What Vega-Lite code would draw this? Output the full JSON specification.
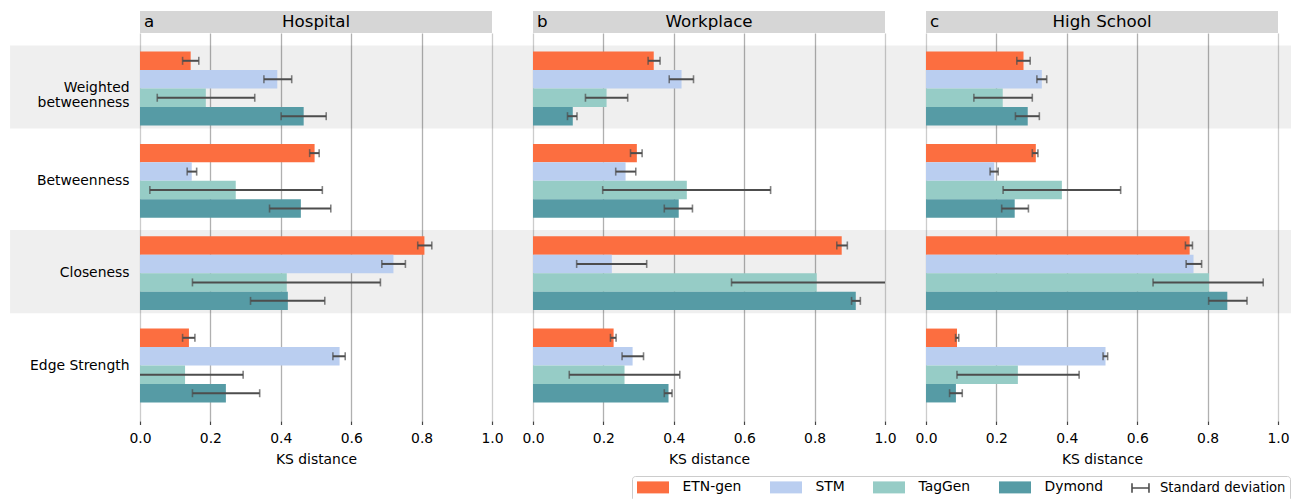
{
  "$schema": "https://vega.github.io/schema/vega-lite/v6.json",
  "padding": {"left": 10, "top": 11, "right": 0, "bottom": 0},
  "autosize": {"type": "pad"},
  "background": "white",
  "spacing": 0,
  "config": {
    "font": "DejaVu Sans",
    "view": {"stroke": null},
    "axis": {"labelColor": "#000000", "titleColor": "#000000", "labelFontSize": 13.9, "titleFontSize": 13.9, "titleFontWeight": "normal", "labelFont": "DejaVu Sans", "titleFont": "DejaVu Sans"},
    "text": {"color": "#000000"}
  },
  "datasets": {
    "bands": [
      {"metric": "Weighted betweenness"},
      {"metric": "Closeness"}
    ],
    "bars": [
      {"panel": "Hospital", "metric": "Weighted betweenness", "method": "ETN-gen", "value": 0.144, "lo": 0.121, "hi": 0.167},
      {"panel": "Hospital", "metric": "Weighted betweenness", "method": "STM", "value": 0.390, "lo": 0.352, "hi": 0.431},
      {"panel": "Hospital", "metric": "Weighted betweenness", "method": "TagGen", "value": 0.187, "lo": 0.049, "hi": 0.326},
      {"panel": "Hospital", "metric": "Weighted betweenness", "method": "Dymond", "value": 0.465, "lo": 0.401, "hi": 0.529},
      {"panel": "Hospital", "metric": "Betweenness", "method": "ETN-gen", "value": 0.496, "lo": 0.482, "hi": 0.509},
      {"panel": "Hospital", "metric": "Betweenness", "method": "STM", "value": 0.147, "lo": 0.134, "hi": 0.161},
      {"panel": "Hospital", "metric": "Betweenness", "method": "TagGen", "value": 0.272, "lo": 0.028, "hi": 0.518},
      {"panel": "Hospital", "metric": "Betweenness", "method": "Dymond", "value": 0.457, "lo": 0.368, "hi": 0.542},
      {"panel": "Hospital", "metric": "Closeness", "method": "ETN-gen", "value": 0.808, "lo": 0.789, "hi": 0.829},
      {"panel": "Hospital", "metric": "Closeness", "method": "STM", "value": 0.720, "lo": 0.687, "hi": 0.754},
      {"panel": "Hospital", "metric": "Closeness", "method": "TagGen", "value": 0.417, "lo": 0.149, "hi": 0.683},
      {"panel": "Hospital", "metric": "Closeness", "method": "Dymond", "value": 0.420, "lo": 0.314, "hi": 0.525},
      {"panel": "Hospital", "metric": "Edge Strength", "method": "ETN-gen", "value": 0.139, "lo": 0.121, "hi": 0.156},
      {"panel": "Hospital", "metric": "Edge Strength", "method": "STM", "value": 0.567, "lo": 0.548, "hi": 0.583},
      {"panel": "Hospital", "metric": "Edge Strength", "method": "TagGen", "value": 0.128, "lo": -0.04, "hi": 0.293},
      {"panel": "Hospital", "metric": "Edge Strength", "method": "Dymond", "value": 0.244, "lo": 0.149, "hi": 0.340},
      {"panel": "Workplace", "metric": "Weighted betweenness", "method": "ETN-gen", "value": 0.343, "lo": 0.327, "hi": 0.361},
      {"panel": "Workplace", "metric": "Weighted betweenness", "method": "STM", "value": 0.422, "lo": 0.387, "hi": 0.456},
      {"panel": "Workplace", "metric": "Weighted betweenness", "method": "TagGen", "value": 0.209, "lo": 0.149, "hi": 0.269},
      {"panel": "Workplace", "metric": "Weighted betweenness", "method": "Dymond", "value": 0.113, "lo": 0.098, "hi": 0.125},
      {"panel": "Workplace", "metric": "Betweenness", "method": "ETN-gen", "value": 0.295, "lo": 0.277, "hi": 0.310},
      {"panel": "Workplace", "metric": "Betweenness", "method": "STM", "value": 0.263, "lo": 0.235, "hi": 0.292},
      {"panel": "Workplace", "metric": "Betweenness", "method": "TagGen", "value": 0.437, "lo": 0.198, "hi": 0.675},
      {"panel": "Workplace", "metric": "Betweenness", "method": "Dymond", "value": 0.414, "lo": 0.373, "hi": 0.453},
      {"panel": "Workplace", "metric": "Closeness", "method": "ETN-gen", "value": 0.877, "lo": 0.863, "hi": 0.893},
      {"panel": "Workplace", "metric": "Closeness", "method": "STM", "value": 0.224, "lo": 0.124, "hi": 0.323},
      {"panel": "Workplace", "metric": "Closeness", "method": "TagGen", "value": 0.806, "lo": 0.564, "hi": 1.05},
      {"panel": "Workplace", "metric": "Closeness", "method": "Dymond", "value": 0.917, "lo": 0.905, "hi": 0.930},
      {"panel": "Workplace", "metric": "Edge Strength", "method": "ETN-gen", "value": 0.229, "lo": 0.220, "hi": 0.236},
      {"panel": "Workplace", "metric": "Edge Strength", "method": "STM", "value": 0.283, "lo": 0.253, "hi": 0.314},
      {"panel": "Workplace", "metric": "Edge Strength", "method": "TagGen", "value": 0.260, "lo": 0.103, "hi": 0.417},
      {"panel": "Workplace", "metric": "Edge Strength", "method": "Dymond", "value": 0.385, "lo": 0.373, "hi": 0.395},
      {"panel": "High School", "metric": "Weighted betweenness", "method": "ETN-gen", "value": 0.277, "lo": 0.258, "hi": 0.296},
      {"panel": "High School", "metric": "Weighted betweenness", "method": "STM", "value": 0.329, "lo": 0.315, "hi": 0.343},
      {"panel": "High School", "metric": "Weighted betweenness", "method": "TagGen", "value": 0.218, "lo": 0.136, "hi": 0.302},
      {"panel": "High School", "metric": "Weighted betweenness", "method": "Dymond", "value": 0.289, "lo": 0.254, "hi": 0.322},
      {"panel": "High School", "metric": "Betweenness", "method": "ETN-gen", "value": 0.312, "lo": 0.302, "hi": 0.318},
      {"panel": "High School", "metric": "Betweenness", "method": "STM", "value": 0.194, "lo": 0.182, "hi": 0.205},
      {"panel": "High School", "metric": "Betweenness", "method": "TagGen", "value": 0.386, "lo": 0.219, "hi": 0.553},
      {"panel": "High School", "metric": "Betweenness", "method": "Dymond", "value": 0.252, "lo": 0.215, "hi": 0.291},
      {"panel": "High School", "metric": "Closeness", "method": "ETN-gen", "value": 0.749, "lo": 0.737, "hi": 0.757},
      {"panel": "High School", "metric": "Closeness", "method": "STM", "value": 0.760, "lo": 0.739, "hi": 0.783},
      {"panel": "High School", "metric": "Closeness", "method": "TagGen", "value": 0.804, "lo": 0.645, "hi": 0.958},
      {"panel": "High School", "metric": "Closeness", "method": "Dymond", "value": 0.856, "lo": 0.803, "hi": 0.912},
      {"panel": "High School", "metric": "Edge Strength", "method": "ETN-gen", "value": 0.088, "lo": 0.084, "hi": 0.093},
      {"panel": "High School", "metric": "Edge Strength", "method": "STM", "value": 0.510, "lo": 0.503, "hi": 0.516},
      {"panel": "High School", "metric": "Edge Strength", "method": "TagGen", "value": 0.261, "lo": 0.088, "hi": 0.435},
      {"panel": "High School", "metric": "Edge Strength", "method": "Dymond", "value": 0.085, "lo": 0.067, "hi": 0.103}
    ]
  },
  "vconcat": [
    {
      "hconcat": [
        {
          "width": 352, "height": 22,
          "data": {"values": [{"title": "Hospital", "letter": "a"}]},
          "layer": [
            {"mark": {"type": "rect", "opacity": 0}, "encoding": {"x": {"datum": -0.3693, "type": "quantitative", "scale": {"domain": [0, 1]}, "axis": null}, "x2": {"datum": 0}}},
            {"mark": {"type": "rect", "color": "#d6d6d6"}, "encoding": {"x": {"datum": 0, "type": "quantitative", "axis": null}, "x2": {"datum": 1}}},
            {"mark": {"type": "text", "fontSize": 16.7, "baseline": "middle", "align": "center"}, "encoding": {"x": {"datum": 0.5, "type": "quantitative", "axis": null}, "text": {"field": "title"}}},
            {"mark": {"type": "text", "fontSize": 16.7, "baseline": "middle", "align": "left", "dx": 4}, "encoding": {"x": {"datum": 0, "type": "quantitative", "axis": null}, "text": {"field": "letter"}}}
          ]
        },
        {
          "width": 352, "height": 22,
          "data": {"values": [{"title": "Workplace", "letter": "b"}]},
          "layer": [
            {"mark": {"type": "rect", "color": "#d6d6d6"}, "encoding": {"x": {"datum": 0, "type": "quantitative", "scale": {"domain": [0, 1]}, "axis": null}, "x2": {"datum": 1}}},
            {"mark": {"type": "text", "fontSize": 16.7, "baseline": "middle", "align": "center"}, "encoding": {"x": {"datum": 0.5, "type": "quantitative", "axis": null}, "text": {"field": "title"}}},
            {"mark": {"type": "text", "fontSize": 16.7, "baseline": "middle", "align": "left", "dx": 4}, "encoding": {"x": {"datum": 0, "type": "quantitative", "axis": null}, "text": {"field": "letter"}}}
          ]
        },
        {
          "width": 352, "height": 22,
          "data": {"values": [{"title": "High School", "letter": "c"}]},
          "layer": [
            {"mark": {"type": "rect", "color": "#d6d6d6"}, "encoding": {"x": {"datum": 0, "type": "quantitative", "scale": {"domain": [0, 1]}, "axis": null}, "x2": {"datum": 1}}},
            {"mark": {"type": "text", "fontSize": 16.7, "baseline": "middle", "align": "center"}, "encoding": {"x": {"datum": 0.5, "type": "quantitative", "axis": null}, "text": {"field": "title"}}},
            {"mark": {"type": "text", "fontSize": 16.7, "baseline": "middle", "align": "left", "dx": 4}, "encoding": {"x": {"datum": 0, "type": "quantitative", "axis": null}, "text": {"field": "letter"}}}
          ]
        }
      ],
      "spacing": 41,
      "bounds": "flush"
    },
    {
      "hconcat": [
        {
          "width": 352, "height": 388,
          "encoding": {
            "y": {"field": "metric", "type": "nominal", "scale": {"domain": ["Weighted betweenness", "Betweenness", "Closeness", "Edge Strength"], "paddingInner": 0.2, "paddingOuter": 0.201},
              "axis": {"title": null, "domain": false, "ticks": false, "grid": false, "labelPadding": 11, "labelFontSize": 13.9, "labelLineHeight": 15, "labelLimit": 300, "labelExpr": "datum.value == 'Weighted betweenness' ? ['Weighted', 'betweenness'] : datum.value"}}
          },
          "layer": [
            {"data": {"name": "bands"}, "mark": {"type": "bar", "height": {"band": 1.125}, "fill": "#000000", "fillOpacity": 0.063, "yOffset": -1.5},
              "encoding": {"x": {"datum": -0.3693, "type": "quantitative"}, "x2": {"datum": 1}}},
            {"data": {"name": "bars"}, "transform": [{"filter": "datum.panel == 'Hospital'"}], "mark": {"type": "bar"},
              "encoding": {
                "x": {"field": "value", "type": "quantitative", "scale": {"domain": [0, 1], "nice": false, "zero": false},
                  "axis": {"title": "KS distance", "values": [0, 0.2, 0.4, 0.6, 0.8, 1], "format": ".1f", "grid": true, "gridColor": {"condition": {"test": "datum.value == 0 || datum.value == 1", "value": "#cccccc"}, "value": "#b0b0b0"}, "gridWidth": 1.3, "domain": false, "tickColor": "#444444", "tickSize": 3.5, "tickWidth": 1.2, "labelPadding": 7, "titlePadding": 7, "labelFlush": false}},
                "yOffset": {"field": "method", "type": "nominal", "scale": {"domain": ["ETN-gen", "STM", "TagGen", "Dymond"], "paddingInner": 0, "paddingOuter": 0}},
                "color": {"field": "method", "type": "nominal", "scale": {"domain": ["ETN-gen", "STM", "TagGen", "Dymond", "Standard deviation"], "range": ["#fc6e40", "#bacef0", "#96ccc6", "#569ba5", "#4d4d4d"]},
                  "legend": {"orient": "none", "legendX": 492, "legendY": 465, "direction": "horizontal", "title": null, "labelFontSize": 13.9, "labelColor": "#000000", "labelFont": "DejaVu Sans", "symbolSize": 144, "labelOffset": 33, "columnPadding": 24, "padding": 4, "strokeColor": "#cccccc", "cornerRadius": 3, "fillColor": "#ffffff", "symbolStrokeWidth": 1.6,
                    "encode": {
                      "symbols": {"update": {
                        "shape": [{"test": "datum.label === 'Standard deviation'", "value": "M-1,-0.8V0.8M-1,0H1.83M1.83,-0.8V0.8"}, {"value": "M-1,-1H4.33V1H-1Z"}],
                        "fill": [{"test": "datum.label === 'Standard deviation'", "value": "transparent"}, {"scale": "color", "field": "value"}],
                        "stroke": [{"test": "datum.label === 'Standard deviation'", "value": "#4d4d4d"}, {"value": "transparent"}],
                        "strokeWidth": {"value": 1.6},
                        "opacity": {"value": 1}
                      }},
                      "labels": {"update": {
                        "x": [{"test": "datum.label === 'Standard deviation'", "value": 29}, {"value": 46.5}],
                        "fontSize": [{"test": "datum.label === 'Standard deviation'", "value": 13.2}, {"value": 13.9}]
                      }}
                    }}}
              }},
            {"data": {"name": "bars"}, "transform": [{"filter": "datum.panel == 'Hospital'"}], "mark": {"type": "rule", "color": "#4d4d4d", "strokeWidth": 2, "clip": true},
              "encoding": {"x": {"field": "lo", "type": "quantitative", "title": "KS distance"}, "x2": {"field": "hi"}, "yOffset": {"field": "method", "type": "nominal"}}},
            {"data": {"name": "bars"}, "transform": [{"filter": "datum.panel == 'Hospital'"}], "mark": {"type": "tick", "color": "#4d4d4d", "thickness": 1.6, "size": 8, "clip": true},
              "encoding": {"x": {"field": "lo", "type": "quantitative", "title": "KS distance"}, "yOffset": {"field": "method", "type": "nominal"}}},
            {"data": {"name": "bars"}, "transform": [{"filter": "datum.panel == 'Hospital'"}], "mark": {"type": "tick", "color": "#4d4d4d", "thickness": 1.6, "size": 8, "clip": true},
              "encoding": {"x": {"field": "hi", "type": "quantitative", "title": "KS distance"}, "yOffset": {"field": "method", "type": "nominal"}}}
          ]
        },
        {
          "width": 352, "height": 388,
          "encoding": {
            "y": {"field": "metric", "type": "nominal", "scale": {"domain": ["Weighted betweenness", "Betweenness", "Closeness", "Edge Strength"], "paddingInner": 0.2, "paddingOuter": 0.201}, "axis": null}
          },
          "layer": [
            {"data": {"name": "bands"}, "mark": {"type": "bar", "height": {"band": 1.125}, "fill": "#000000", "fillOpacity": 0.063, "yOffset": -1.5},
              "encoding": {"x": {"datum": -0.11648, "type": "quantitative"}, "x2": {"datum": 1}}},
            {"data": {"name": "bars"}, "transform": [{"filter": "datum.panel == 'Workplace'"}], "mark": {"type": "bar"},
              "encoding": {
                "x": {"field": "value", "type": "quantitative", "scale": {"domain": [0, 1], "nice": false, "zero": false},
                  "axis": {"title": "KS distance", "values": [0, 0.2, 0.4, 0.6, 0.8, 1], "format": ".1f", "grid": true, "gridColor": {"condition": {"test": "datum.value == 0 || datum.value == 1", "value": "#cccccc"}, "value": "#b0b0b0"}, "gridWidth": 1.3, "domain": false, "tickColor": "#444444", "tickSize": 3.5, "tickWidth": 1.2, "labelPadding": 7, "titlePadding": 7, "labelFlush": false}},
                "yOffset": {"field": "method", "type": "nominal", "scale": {"domain": ["ETN-gen", "STM", "TagGen", "Dymond"], "paddingInner": 0, "paddingOuter": 0}},
                "color": {"field": "method", "type": "nominal", "scale": {"domain": ["ETN-gen", "STM", "TagGen", "Dymond", "Standard deviation"], "range": ["#fc6e40", "#bacef0", "#96ccc6", "#569ba5", "#4d4d4d"]},
                  "legend": {"orient": "none", "legendX": 492, "legendY": 465, "direction": "horizontal", "title": null, "labelFontSize": 13.9, "labelColor": "#000000", "labelFont": "DejaVu Sans", "symbolSize": 144, "labelOffset": 33, "columnPadding": 24, "padding": 4, "strokeColor": "#cccccc", "cornerRadius": 3, "fillColor": "#ffffff", "symbolStrokeWidth": 1.6,
                    "encode": {
                      "symbols": {"update": {
                        "shape": [{"test": "datum.label === 'Standard deviation'", "value": "M-1,-0.8V0.8M-1,0H1.83M1.83,-0.8V0.8"}, {"value": "M-1,-1H4.33V1H-1Z"}],
                        "fill": [{"test": "datum.label === 'Standard deviation'", "value": "transparent"}, {"scale": "color", "field": "value"}],
                        "stroke": [{"test": "datum.label === 'Standard deviation'", "value": "#4d4d4d"}, {"value": "transparent"}],
                        "strokeWidth": {"value": 1.6},
                        "opacity": {"value": 1}
                      }},
                      "labels": {"update": {
                        "x": [{"test": "datum.label === 'Standard deviation'", "value": 29}, {"value": 46.5}],
                        "fontSize": [{"test": "datum.label === 'Standard deviation'", "value": 13.2}, {"value": 13.9}]
                      }}
                    }}}
              }},
            {"data": {"name": "bars"}, "transform": [{"filter": "datum.panel == 'Workplace'"}], "mark": {"type": "rule", "color": "#4d4d4d", "strokeWidth": 2, "clip": true},
              "encoding": {"x": {"field": "lo", "type": "quantitative", "title": "KS distance"}, "x2": {"field": "hi"}, "yOffset": {"field": "method", "type": "nominal"}}},
            {"data": {"name": "bars"}, "transform": [{"filter": "datum.panel == 'Workplace'"}], "mark": {"type": "tick", "color": "#4d4d4d", "thickness": 1.6, "size": 8, "clip": true},
              "encoding": {"x": {"field": "lo", "type": "quantitative", "title": "KS distance"}, "yOffset": {"field": "method", "type": "nominal"}}},
            {"data": {"name": "bars"}, "transform": [{"filter": "datum.panel == 'Workplace'"}], "mark": {"type": "tick", "color": "#4d4d4d", "thickness": 1.6, "size": 8, "clip": true},
              "encoding": {"x": {"field": "hi", "type": "quantitative", "title": "KS distance"}, "yOffset": {"field": "method", "type": "nominal"}}}
          ]
        },
        {
          "width": 352, "height": 388,
          "encoding": {
            "y": {"field": "metric", "type": "nominal", "scale": {"domain": ["Weighted betweenness", "Betweenness", "Closeness", "Edge Strength"], "paddingInner": 0.2, "paddingOuter": 0.201}, "axis": null}
          },
          "layer": [
            {"data": {"name": "bands"}, "mark": {"type": "bar", "height": {"band": 1.125}, "fill": "#000000", "fillOpacity": 0.063, "yOffset": -1.5},
              "encoding": {"x": {"datum": -0.11648, "type": "quantitative"}, "x2": {"datum": 1.037}}},
            {"data": {"name": "bars"}, "transform": [{"filter": "datum.panel == 'High School'"}], "mark": {"type": "bar"},
              "encoding": {
                "x": {"field": "value", "type": "quantitative", "scale": {"domain": [0, 1], "nice": false, "zero": false},
                  "axis": {"title": "KS distance", "values": [0, 0.2, 0.4, 0.6, 0.8, 1], "format": ".1f", "grid": true, "gridColor": {"condition": {"test": "datum.value == 0 || datum.value == 1", "value": "#cccccc"}, "value": "#b0b0b0"}, "gridWidth": 1.3, "domain": false, "tickColor": "#444444", "tickSize": 3.5, "tickWidth": 1.2, "labelPadding": 7, "titlePadding": 7, "labelFlush": false}},
                "yOffset": {"field": "method", "type": "nominal", "scale": {"domain": ["ETN-gen", "STM", "TagGen", "Dymond"], "paddingInner": 0, "paddingOuter": 0}},
                "color": {"field": "method", "type": "nominal", "scale": {"domain": ["ETN-gen", "STM", "TagGen", "Dymond", "Standard deviation"], "range": ["#fc6e40", "#bacef0", "#96ccc6", "#569ba5", "#4d4d4d"]},
                  "legend": {"orient": "none", "legendX": 492, "legendY": 465, "direction": "horizontal", "title": null, "labelFontSize": 13.9, "labelColor": "#000000", "labelFont": "DejaVu Sans", "symbolSize": 144, "labelOffset": 33, "columnPadding": 24, "padding": 4, "strokeColor": "#cccccc", "cornerRadius": 3, "fillColor": "#ffffff", "symbolStrokeWidth": 1.6,
                    "encode": {
                      "symbols": {"update": {
                        "shape": [{"test": "datum.label === 'Standard deviation'", "value": "M-1,-0.8V0.8M-1,0H1.83M1.83,-0.8V0.8"}, {"value": "M-1,-1H4.33V1H-1Z"}],
                        "fill": [{"test": "datum.label === 'Standard deviation'", "value": "transparent"}, {"scale": "color", "field": "value"}],
                        "stroke": [{"test": "datum.label === 'Standard deviation'", "value": "#4d4d4d"}, {"value": "transparent"}],
                        "strokeWidth": {"value": 1.6},
                        "opacity": {"value": 1}
                      }},
                      "labels": {"update": {
                        "x": [{"test": "datum.label === 'Standard deviation'", "value": 29}, {"value": 46.5}],
                        "fontSize": [{"test": "datum.label === 'Standard deviation'", "value": 13.2}, {"value": 13.9}]
                      }}
                    }}}
              }},
            {"data": {"name": "bars"}, "transform": [{"filter": "datum.panel == 'High School'"}], "mark": {"type": "rule", "color": "#4d4d4d", "strokeWidth": 2, "clip": true},
              "encoding": {"x": {"field": "lo", "type": "quantitative", "title": "KS distance"}, "x2": {"field": "hi"}, "yOffset": {"field": "method", "type": "nominal"}}},
            {"data": {"name": "bars"}, "transform": [{"filter": "datum.panel == 'High School'"}], "mark": {"type": "tick", "color": "#4d4d4d", "thickness": 1.6, "size": 8, "clip": true},
              "encoding": {"x": {"field": "lo", "type": "quantitative", "title": "KS distance"}, "yOffset": {"field": "method", "type": "nominal"}}},
            {"data": {"name": "bars"}, "transform": [{"filter": "datum.panel == 'High School'"}], "mark": {"type": "tick", "color": "#4d4d4d", "thickness": 1.6, "size": 8, "clip": true},
              "encoding": {"x": {"field": "hi", "type": "quantitative", "title": "KS distance"}, "yOffset": {"field": "method", "type": "nominal"}}}
          ]
        }
      ],
      "spacing": 41,
      "bounds": "flush"
    }
  ]
}
